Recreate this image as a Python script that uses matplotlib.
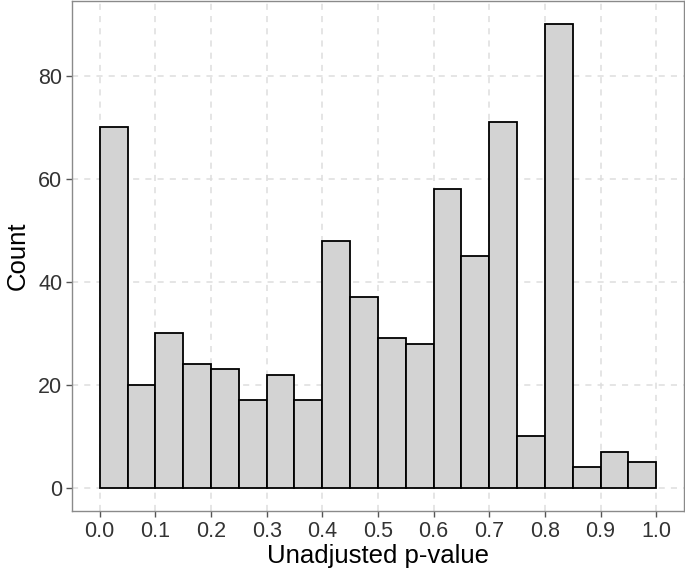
import matplotlib
matplotlib.use('Agg')
import matplotlib.pyplot as plt

# Histogram counts per 0.05-wide bin of unadjusted p-values
bin_left = [0.00, 0.05, 0.10, 0.15, 0.20, 0.25, 0.30, 0.35, 0.40, 0.45,
            0.50, 0.55, 0.60, 0.65, 0.70, 0.75, 0.80, 0.85, 0.90, 0.95]
counts = [70, 20, 30, 24, 23, 17, 22, 17, 48, 37,
          29, 28, 58, 45, 71, 10, 90, 4, 7, 5]
bin_width = 0.05
x_ticks = [0.0, 0.1, 0.2, 0.3, 0.4, 0.5, 0.6, 0.7, 0.8, 0.9, 1.0]
y_ticks = [0, 20, 40, 60, 80]

plt.rcParams['font.family'] = ['Liberation Sans', 'DejaVu Sans']

fig = plt.figure(figsize=(6.85, 5.68), dpi=100)
ax = fig.add_axes([0.105, 0.1004, 0.8935, 0.8976])

ax.bar(bin_left, counts, width=bin_width, align='edge',
       color='#d3d3d3', edgecolor='black', linewidth=1.3, zorder=3)

ax.set_xlim(-0.05, 1.05)
ax.set_ylim(-4.5, 94.5)
ax.set_xticks(x_ticks)
ax.set_xticklabels([f'{t:.1f}' for t in x_ticks])
ax.set_yticks(y_ticks)

ax.grid(True, color='#dedede', linestyle=(0, (4, 4)), linewidth=1.1, zorder=0)
ax.set_axisbelow(True)

for s in ax.spines.values():
    s.set_color('#8a8a8a')
    s.set_linewidth(1.0)

ax.tick_params(axis='both', colors='#555555', labelcolor='#333333',
               labelsize=15.5, length=4, width=1, pad=3)

ax.set_xlabel('Unadjusted p-value', fontsize=18.5, color='black', labelpad=2)
ax.set_ylabel('Count', fontsize=18.5, color='black', labelpad=6)

plt.savefig('out.png', dpi=100)
plt.close(fig)
